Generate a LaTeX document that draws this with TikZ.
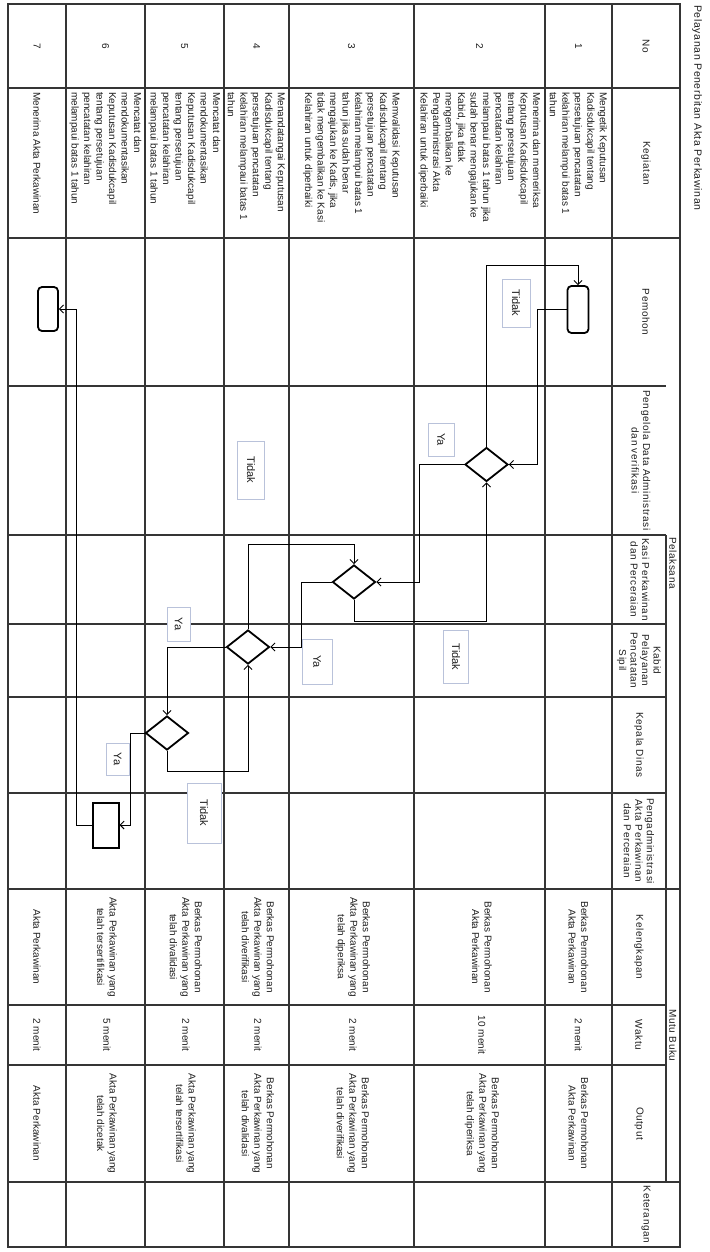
\documentclass[tikz,border=0pt]{standalone}
\usepackage{fontspec}
\setmainfont{Liberation Sans}
\newfontfamily\hdrfont[LetterSpace=6]{Liberation Sans}
\usetikzlibrary{shapes.geometric,arrows.meta}
\definecolor{gridc}{HTML}{353535}
\definecolor{lblc}{HTML}{B9C2DA}
\definecolor{txtc}{HTML}{1E1E1E}
\begin{document}
\begin{tikzpicture}[x=1pt,y=-1pt,
  gridline/.style={draw=gridc,line width=1.1pt},
  txt/.style={rotate=-90,inner sep=0pt,text=txtc,font=\fontsize{10}{12.5}\selectfont},
  keg/.style={txt,anchor=west,align=left},
  dat/.style={txt,anchor=center,align=center},
  hdr/.style={txt,anchor=center,align=center,font=\hdrfont\fontsize{10}{11.5}\selectfont},
  rrect/.style={draw=black,fill=white,rectangle,rounded corners=4pt,line width=1.8pt,inner sep=0pt,minimum width=21pt,minimum height=47pt},
  srect/.style={draw=black,fill=white,rectangle,line width=2pt,inner sep=0pt,minimum width=26pt,minimum height=45pt},
  dia/.style={draw=black,fill=white,diamond,line width=1.8pt,inner sep=0pt,minimum width=43pt,minimum height=34pt},
  flow/.style={draw=black,line width=0.9pt,-{Straight Barb[length=4pt,width=8pt]}},
  lbl/.style={draw=lblc,line width=0.6pt,fill=white,rotate=-90,inner sep=0pt,text=txtc,font=\fontsize{11}{13}\selectfont}
]
\useasboundingbox (0,0) rectangle (709,1252);

% ---------- grid ----------
\draw[gridline] (8,4) rectangle (680,1247);
\foreach \xx in {66,145,224,289,414,545,612}
  \draw[gridline] (\xx,4) -- (\xx,1247);
\draw[gridline] (666,535) -- (666,1182);
\foreach \yy in {88,238,889,1182}
  \draw[gridline] (8,\yy) -- (680,\yy);
\foreach \yy in {386,535,624,697,793,1005,1065}
  \draw[gridline] (8,\yy) -- (666,\yy);

% ---------- title and headers ----------
\node[txt,anchor=west,font=\hdrfont\fontsize{10.5}{12}\selectfont] (title) at (697,5) {Pelayanan Penerbitan Akta Perkawinan};
\node[hdr] (hNo) at (646,46) {No};
\node[hdr] (hKeg) at (646,163) {Kegiatan};
\node[hdr] (hPem) at (646,312) {Pemohon};
\node[hdr] (hPel) at (673,563) {Pelaksana};
\node[hdr] (hPeng) at (641,460.5) {Pengelola Data Administrasi\\dan verifikasi};
\node[hdr] (hKasi) at (640,579.5) {Kasi Perkawinan\\dan Perceraian};
\node[hdr] (hKabid) at (639,660.5) {Kabid\\Pelayanan\\Pencatatan\\Sipil};
\node[hdr] (hKadis) at (639,745) {Kepala Dinas};
\node[hdr] (hAdm) at (639,841) {Pengadministrasi\\Akta Perkawinan\\dan Perceraian};
\node[hdr] (hMutu) at (673,1035.5) {Mutu Buku};
\node[hdr] (hKel) at (639,947) {Kelengkapan};
\node[hdr] (hWak) at (639,1035) {Waktu};
\node[hdr] (hOut) at (639,1123.5) {Output};
\node[hdr] (hKet) at (646,1214.5) {Keterangan};

% ---------- numbers ----------
\node[dat] (n1) at (578.5,46) {1};
\node[dat] (n2) at (479.5,46) {2};
\node[dat] (n3) at (351.5,46) {3};
\node[dat] (n4) at (256.5,46) {4};
\node[dat] (n5) at (184.5,46) {5};
\node[dat] (n6) at (105.5,46) {6};
\node[dat] (n7) at (37,46) {7};

% ---------- kegiatan ----------
\node[keg] (k1) at (578.5,92) {Mengetik Keputusan\\Kadisdukcapil tentang\\persetujuan pencatatan\\kelahiran melampui batas 1\\tahun};
\node[keg] (k2) at (479.5,92) {Menerima dan memeriksa\\Keputusan Kadisdukcapil\\tentang persetujuan\\pencatatan kelahiran\\melampaui batas 1 tahun jika\\sudah benar mengajukan ke\\Kabid, jika tidak\\mengembalikan ke\\Pengadministrasi Akta\\Kelahiran untuk diperbaiki};
\node[keg] (k3) at (351.5,92) {Memvalidasi Keputusan\\Kadisdukcapil tentang\\persetujuan pencatatan\\kelahiran melampui batas 1\\tahun jika sudah benar\\mengajukan ke Kadis, jika\\tidak mengembalikan ke Kasi\\Kelahiran untuk diperbaiki};
\node[keg] (k4) at (256.5,92) {Menandatangai Keputusan\\Kadisdukcapil tentang\\persetujuan pencatatan\\kelahiran melampaui batas 1\\tahun};
\node[keg] (k5) at (184.5,92) {Mencatat dan\\mendokumentasikan\\Keputusan Kadisdukcapil\\tentang persetujuan\\pencatatan kelahiran\\melampaui batas 1 tahun};
\node[keg] (k6) at (105.5,92) {Mencatat dan\\mendokumentasikan\\Keputusan Kadisdukcapil\\tentang persetujuan\\pencatatan kelahiran\\melampaui batas 1 tahun};
\node[keg] (k7) at (37,92) {Menerima Akta Perkawinan};

% ---------- kelengkapan / waktu / output ----------
\node[dat] (c1) at (578.5,947) {Berkas Permohonan\\Akta Perkawinan};
\node[dat] (w1) at (578.5,1035) {2 menit};
\node[dat] (o1) at (578.5,1123.5) {Berkas Permohonan\\Akta Perkawinan};
\node[dat] (c2) at (482,947) {Berkas Permohonan\\Akta Perkawinan};
\node[dat] (w2) at (482,1035) {10 menit};
\node[dat] (o2) at (482,1123.5) {Berkas Permohonan\\Akta Perkawinan yang\\telah diperiksa};
\node[dat] (c3) at (353,947) {Berkas Permohonan\\Akta Perkawinan yang\\telah diperiksa};
\node[dat] (w3) at (353,1035) {2 menit};
\node[dat] (o3) at (353,1123.5) {Berkas Permohonan\\Akta Perkawinan yang\\telah diverifikasi};
\node[dat] (c4) at (258,947) {Berkas Permohonan\\Akta Perkawinan yang\\telah diverifikasi};
\node[dat] (w4) at (258,1035) {2 menit};
\node[dat] (o4) at (258,1123.5) {Berkas Permohonan\\Akta Perkawinan yang\\telah divalidasi};
\node[dat] (c5) at (186,947) {Berkas Permohonan\\Akta Perkawinan yang\\telah divalidasi};
\node[dat] (w5) at (186,1035) {2 menit};
\node[dat] (o5) at (186,1123.5) {Akta Perkawinan yang\\telah tersertifikasi};
\node[dat] (c6) at (107,947) {Akta Perkawinan yang\\telah tersertifikasi};
\node[dat] (w6) at (107,1035) {5 menit};
\node[dat] (o6) at (107,1123.5) {Akta Perkawinan yang\\telah dicetak};
\node[dat] (c7) at (37,947) {Akta Perkawinan};
\node[dat] (w7) at (37,1035) {2 menit};
\node[dat] (o7) at (37,1123.5) {Akta Perkawinan};

% ---------- flow shapes ----------
\node[rrect] (R1) at (578,309.5) {};
\node[dia] (D1) at (486.5,464.5) {};
\node[dia] (D2) at (354,582) {};
\node[dia] (D3) at (248,647) {};
\node[dia] (D4) at (167,733) {};
\node[srect] (R2) at (105.5,825) {};
\node[rrect,minimum width=20pt,minimum height=44pt] (R3) at (48,309) {};

% ---------- connectors ----------
\draw[flow] (R1.west) -- (537,309.5) |- (D1.east);
\draw[flow] (D1.north) -- (486.5,265) -| (R1.north);
\draw[flow] (D1.west) -- (419,464.5) |- (D2.east);
\draw[flow] (D2.south) -- (354,621) -| (D1.south);
\draw[flow] (D3.north) -- (248,544) -| (D2.north);
\draw[flow] (D2.west) -- (301,582) |- (D3.east);
\draw[flow] (D3.west) -| (D4.north);
\draw[flow] (D4.south) -- (167,771) -| (D3.south);
\draw[flow] (D4.west) -- (130,733) |- (R2.east);
\draw[flow] (R2.west) -- (76,825) |- (R3.east);

% ---------- labels ----------
\node[lbl,minimum width=48pt,minimum height=28pt] (L1) at (516,303) {Tidak};
\node[lbl,minimum width=33pt,minimum height=26pt] (L2) at (441,439.5) {Ya};
\node[lbl,minimum width=58pt,minimum height=27pt] (L3) at (251,470) {Tidak};
\node[lbl,minimum width=53pt,minimum height=25pt] (L4) at (456,657) {Tidak};
\node[lbl,minimum width=45pt,minimum height=30pt] (L5) at (317,661.5) {Ya};
\node[lbl,minimum width=34pt,minimum height=23pt] (L6) at (178.6,624) {Ya};
\node[lbl,minimum width=60pt,minimum height=34pt] (L7) at (204,813) {Tidak};
\node[lbl,minimum width=32pt,minimum height=23pt] (L8) at (117.5,759) {Ya};
\end{tikzpicture}
\end{document}
